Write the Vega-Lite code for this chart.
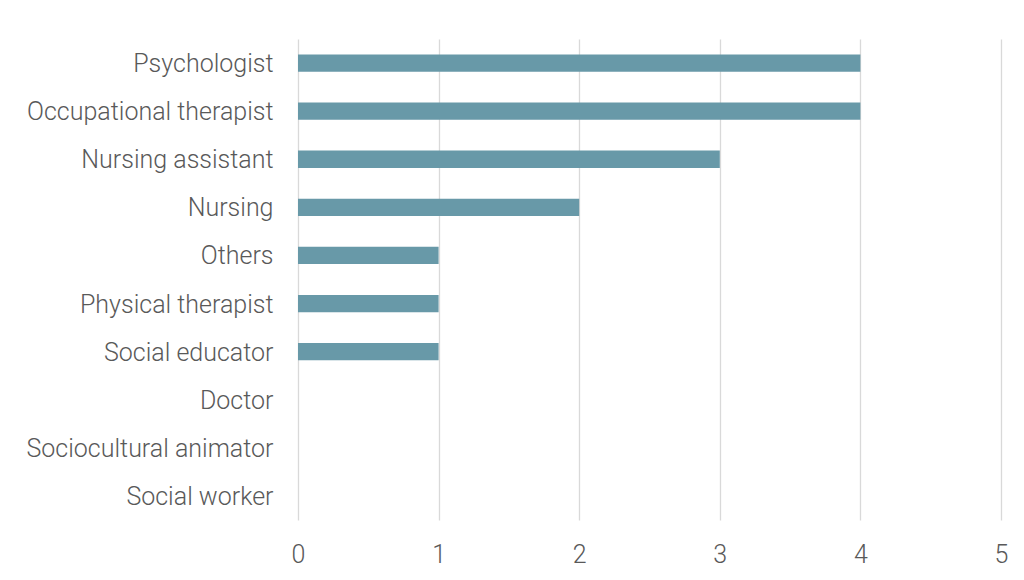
{
  "$schema": "https://vega.github.io/schema/vega-lite/v6.json",
  "autosize": "none",
  "width": 703,
  "height": 481,
  "padding": {"left": 298, "top": 39, "right": 23, "bottom": 60},
  "background": "white",
  "data": {"values": [
    {"role": "Psychologist", "count": 4},
    {"role": "Occupational therapist", "count": 4},
    {"role": "Nursing assistant", "count": 3},
    {"role": "Nursing", "count": 2},
    {"role": "Others", "count": 1},
    {"role": "Physical therapist", "count": 1},
    {"role": "Social educator", "count": 1},
    {"role": "Doctor", "count": 0},
    {"role": "Sociocultural animator", "count": 0},
    {"role": "Social worker", "count": 0}
  ]},
  "mark": {"type": "bar", "color": "#6899a8"},
  "encoding": {
    "y": {
      "field": "role", "type": "nominal", "sort": null,
      "scale": {"paddingInner": 0.64, "paddingOuter": 0.32},
      "axis": {"title": null, "domain": false, "ticks": false, "grid": false,
        "labelFont": "Roboto", "labelFontSize": 25, "labelFontWeight": 300, "labelColor": "#595959", "labelPadding": 25, "labelLimit": 400, "labelOverlap": false, "labelOffset": 1}
    },
    "x": {
      "field": "count", "type": "quantitative",
      "scale": {"domain": [0, 5], "nice": false},
      "axis": {"title": null, "domain": false, "ticks": false, "values": [0,1,2,3,4,5],
        "grid": true, "gridColor": "#d9d9d9", "gridWidth": 1.3,
        "labelFont": "Roboto", "labelFontSize": 25, "labelFontWeight": 300, "labelColor": "#595959", "labelPadding": 22, "labelFlush": false, "labelOverlap": false}
    }
  },
  "config": {"view": {"stroke": null}}
}
